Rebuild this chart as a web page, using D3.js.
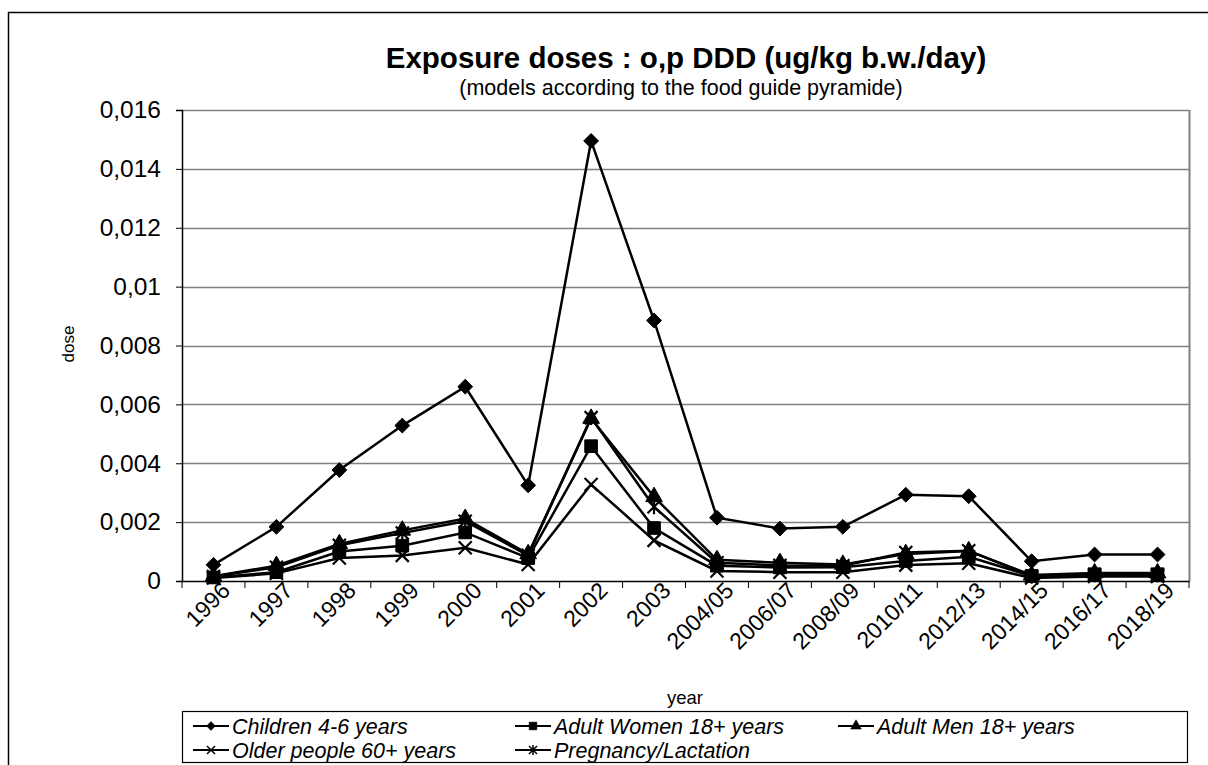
<!DOCTYPE html>
<html><head><meta charset="utf-8">
<script src="https://cdn.jsdelivr.net/npm/d3@7"></script>
<style>body{margin:0;background:#fff;overflow:hidden;}svg{display:block;font-family:"Liberation Sans",Arial,sans-serif;}</style>
</head><body><svg id="c" width="1208" height="765"></svg>
<script>
const categories = ["1996","1997","1998","1999","2000","2001","2002","2003","2004/05","2006/07","2008/09","2010/11","2012/13","2014/15","2016/17","2018/19"];
const children = [0.00055,0.00184,0.00377,0.00528,0.0066,0.00325,0.01495,0.00885,0.00215,0.00178,0.00184,0.00293,0.00288,0.00067,0.0009,0.0009];
const adultWomen = [0.00012,0.0003,0.001,0.0012,0.00165,0.00078,0.00458,0.0018,0.00052,0.00046,0.00047,0.00068,0.00082,0.00017,0.00023,0.00023];
const adultMen = [0.00016,0.00052,0.00126,0.00172,0.00212,0.00092,0.00552,0.00286,0.00072,0.00062,0.00056,0.00092,0.00102,0.0002,0.00027,0.00027];
const olderPeople = [0.0001,0.00026,0.00078,0.00087,0.00113,0.00056,0.00328,0.00138,0.00034,0.0003,0.0003,0.00054,0.0006,0.0001,0.00015,0.00015];
const pregnancy = [0.00015,0.00047,0.00121,0.00163,0.00203,0.00087,0.00555,0.00252,0.00062,0.00053,0.00052,0.00097,0.00103,0.00016,0.00021,0.00021];
const seriesNames = ["Children 4-6 years","Adult Women 18+ years","Adult Men 18+ years","Older people 60+ years","Pregnancy/Lactation"];
const yTicks = [0,0.002,0.004,0.006,0.008,0.01,0.012,0.014,0.016];

const series = [
  {name:seriesNames[0], values:children, marker:"diamond"},
  {name:seriesNames[1], values:adultWomen, marker:"square"},
  {name:seriesNames[2], values:adultMen, marker:"triangle"},
  {name:seriesNames[3], values:olderPeople, marker:"x"},
  {name:seriesNames[4], values:pregnancy, marker:"star"}
];

const svg = d3.select("#c");
const L=182, R=1189, T=110, B=581;

svg.append("path").attr("d","M8.5,800V12.5H1300").attr("fill","none").attr("stroke","#000").attr("stroke-width",1.5);

const x = d3.scaleBand().domain(categories).range([L,R]).padding(0);
const y = d3.scaleLinear().domain([0,0.016]).range([B,T]);

svg.append("g").selectAll("line").data(yTicks.slice(1)).join("line")
  .attr("x1",L).attr("x2",R).attr("y1",d=>Math.round(y(d))+0.5).attr("y2",d=>Math.round(y(d))+0.5)
  .attr("stroke","#808080").attr("stroke-width",1.5);
svg.append("line").attr("x1",R+0.5).attr("x2",R+0.5).attr("y1",T).attr("y2",B)
  .attr("stroke","#808080").attr("stroke-width",2);

const fmt = d => d===0 ? "0" : String(d).replace(".",",");
const yAxis = svg.append("g").attr("transform",`translate(${L},0)`)
  .call(d3.axisLeft(y).tickValues(yTicks).tickFormat(fmt).tickSize(6).tickPadding(15));
yAxis.select(".domain").attr("stroke","#000").attr("stroke-width",1.5);
yAxis.selectAll(".tick line").attr("stroke","#000");
yAxis.selectAll("text").attr("font-size",24.5).attr("fill","#000").attr("font-family","Liberation Sans, Arial, sans-serif");

const xAxis = svg.append("g").attr("transform",`translate(0,${B})`)
  .call(d3.axisBottom(x).tickSize(0).tickFormat(""));
xAxis.select(".domain").attr("stroke","#000").attr("stroke-width",1.5);
xAxis.selectAll(".tick").remove();
const bounds = categories.map(c=>x(c)).concat([R]);
svg.append("g").selectAll("line").data(bounds).join("line")
  .attr("x1",d=>d).attr("x2",d=>d).attr("y1",B).attr("y2",B+7).attr("stroke","#000").attr("stroke-width",1);
svg.append("g").selectAll("text").data(categories).join("text")
  .attr("transform",d=>`translate(${x(d)+x.bandwidth()/2+18},${B+11}) rotate(-45)`)
  .attr("text-anchor","end").attr("font-size",23).text(d=>d);

const line = d3.line().x((d,i)=>x(categories[i])+x.bandwidth()/2).y(d=>y(d));
const markerPath = {
  diamond: d3.symbol().type(d3.symbolDiamond2).size(140)(),
  square: d3.symbol().type(d3.symbolSquare).size(160)(),
  triangle: d3.symbol().type(d3.symbolTriangle).size(120)(),
  x: "M-6.5,-6.5L6.5,6.5M-6.5,6.5L6.5,-6.5",
  star: "M-6.5,-6.5L6.5,6.5M-6.5,6.5L6.5,-6.5M0,-7.5L0,7.5"
};
series.forEach(s=>{
  svg.append("path").datum(s.values).attr("d",line).attr("fill","none")
    .attr("stroke","#000").attr("stroke-width",2.5);
});
series.forEach(s=>{
  const g = svg.append("g");
  const open = s.marker==="x"||s.marker==="star";
  g.selectAll("path").data(s.values).join("path")
    .attr("transform",(d,i)=>`translate(${x(categories[i])+x.bandwidth()/2},${y(d)})`)
    .attr("d",markerPath[s.marker])
    .attr("fill",open?"none":"#000")
    .attr("stroke","#000").attr("stroke-width",open?2.2:1);
});

svg.append("text").attr("x",686).attr("y",68).attr("text-anchor","middle")
  .attr("font-size",29.5).attr("font-weight","bold").text("Exposure doses : o,p DDD (ug/kg b.w./day)");
svg.append("text").attr("x",681).attr("y",95).attr("text-anchor","middle")
  .attr("font-size",21.5).text("(models according to the food guide pyramide)");
svg.append("text").attr("transform","translate(74,344) rotate(-90)").attr("text-anchor","middle")
  .attr("font-size",17).text("dose");
svg.append("text").attr("x",685).attr("y",704).attr("text-anchor","middle")
  .attr("font-size",18.5).text("year");

svg.append("rect").attr("x",182.5).attr("y",711.5).attr("width",1005).attr("height",51)
  .attr("fill","#fff").attr("stroke","#000").attr("stroke-width",1.2);
const legPos = [[193,726],[515,726],[838,726],[193,750],[515,750]];
const legMarker = {
  diamond: d3.symbol().type(d3.symbolDiamond2).size(50)(),
  square: d3.symbol().type(d3.symbolSquare).size(60)(),
  triangle: d3.symbol().type(d3.symbolTriangle).size(50)(),
  x: "M-4,-4L4,4M-4,4L4,-4",
  star: "M-4,-4L4,4M-4,4L4,-4M0,-5L0,5"
};
series.forEach((s,i)=>{
  const [lx,ly] = legPos[i];
  const g = svg.append("g");
  const open = s.marker==="x"||s.marker==="star";
  g.append("line").attr("x1",lx).attr("x2",lx+36).attr("y1",ly).attr("y2",ly).attr("stroke","#000").attr("stroke-width",2);
  g.append("path").attr("transform",`translate(${lx+18},${ly})`).attr("d",legMarker[s.marker])
    .attr("fill",open?"none":"#000").attr("stroke","#000").attr("stroke-width",open?1.5:0.5);
  g.append("text").attr("x",lx+39).attr("y",ly).attr("dy","0.36em").attr("font-size",21.5)
    .attr("font-style","italic").text(s.name);
});
</script></body></html>
